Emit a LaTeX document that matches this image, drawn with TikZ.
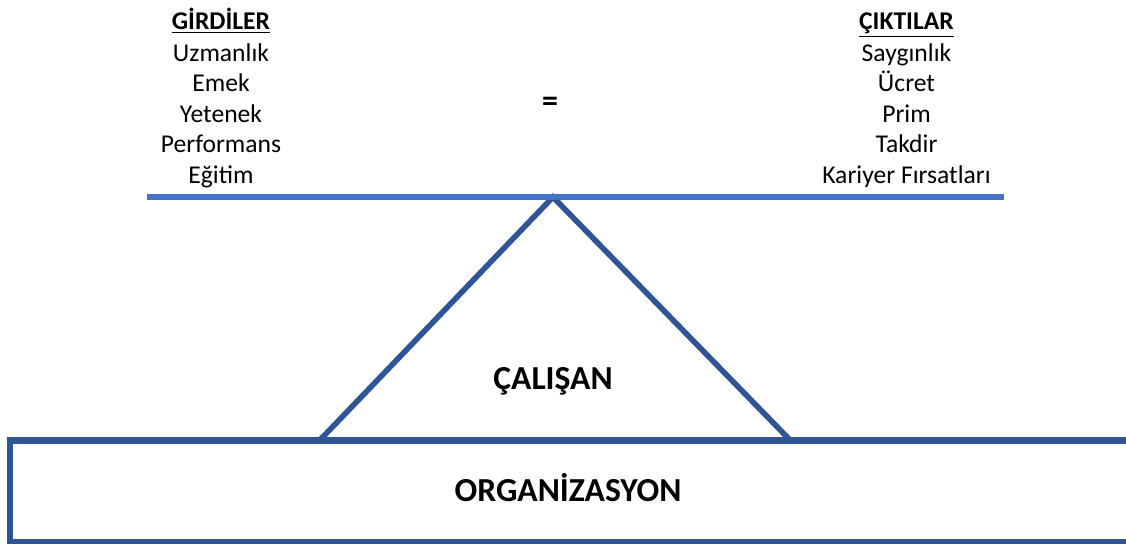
\documentclass[tikz,border=0pt]{standalone}
\usepackage{fontspec}
\setmainfont{Carlito}
\usetikzlibrary{positioning}
\definecolor{beam}{HTML}{4472C4}
\definecolor{frame}{HTML}{2F5597}

\tikzset{
  item/.style={anchor=base,inner sep=0pt,font=\fontsize{12.8}{15}\selectfont},
  head/.style={item,font=\fontsize{12.8}{15}\selectfont\bfseries},
  big/.style={anchor=base,inner sep=0pt,font=\fontsize{16.8}{19}\selectfont\bfseries}
}

\begin{document}
\begin{tikzpicture}[x=0.5pt,y=-0.5pt]
\useasboundingbox (0,0) rectangle (1126,543);
\clip (0,0) rectangle (1126,543);
% organization box (runs off the right edge)
\draw[frame,line width=3.25pt] (10,440.5) rectangle (1140,542);
\node[big] (org) at (568,501) {ORGANİZASYON};
% employee triangle
\coordinate (tl) at (320,440);
\coordinate (tip) at (553,197);
\coordinate (tr) at (790,440);
\draw[frame,line width=2.8pt,line join=miter] (tl)--(tip)--(tr);
\node[big] (emp) at (553,389) {ÇALIŞAN};
% the beam
\coordinate (bl) at (147,197); \coordinate (br) at (1004,197);
\draw[beam,line width=3pt] (bl)--(br);
\node[item,anchor=center,font=\fontsize{16}{18}\selectfont\bfseries] (eq) at (550,104) {=};
% inputs and outputs
\node[head] (in0) at (221,29.5) {\underline{GİRDİLER}};
\foreach \t [count=\i] in {Uzmanlık,Emek,Yetenek,Performans,Eğitim}
  \node[item] (in\i) at (221,30.5+30.6*\i) {\t};
\node[head] (out0) at (906.5,29.5) {\underline{ÇIKTILAR}};
\foreach \t [count=\i] in {Saygınlık,Ücret,Prim,Takdir,Kariyer Fırsatları}
  \node[item] (out\i) at (906.5,30.5+30.6*\i) {\t};
\end{tikzpicture}
\end{document}
